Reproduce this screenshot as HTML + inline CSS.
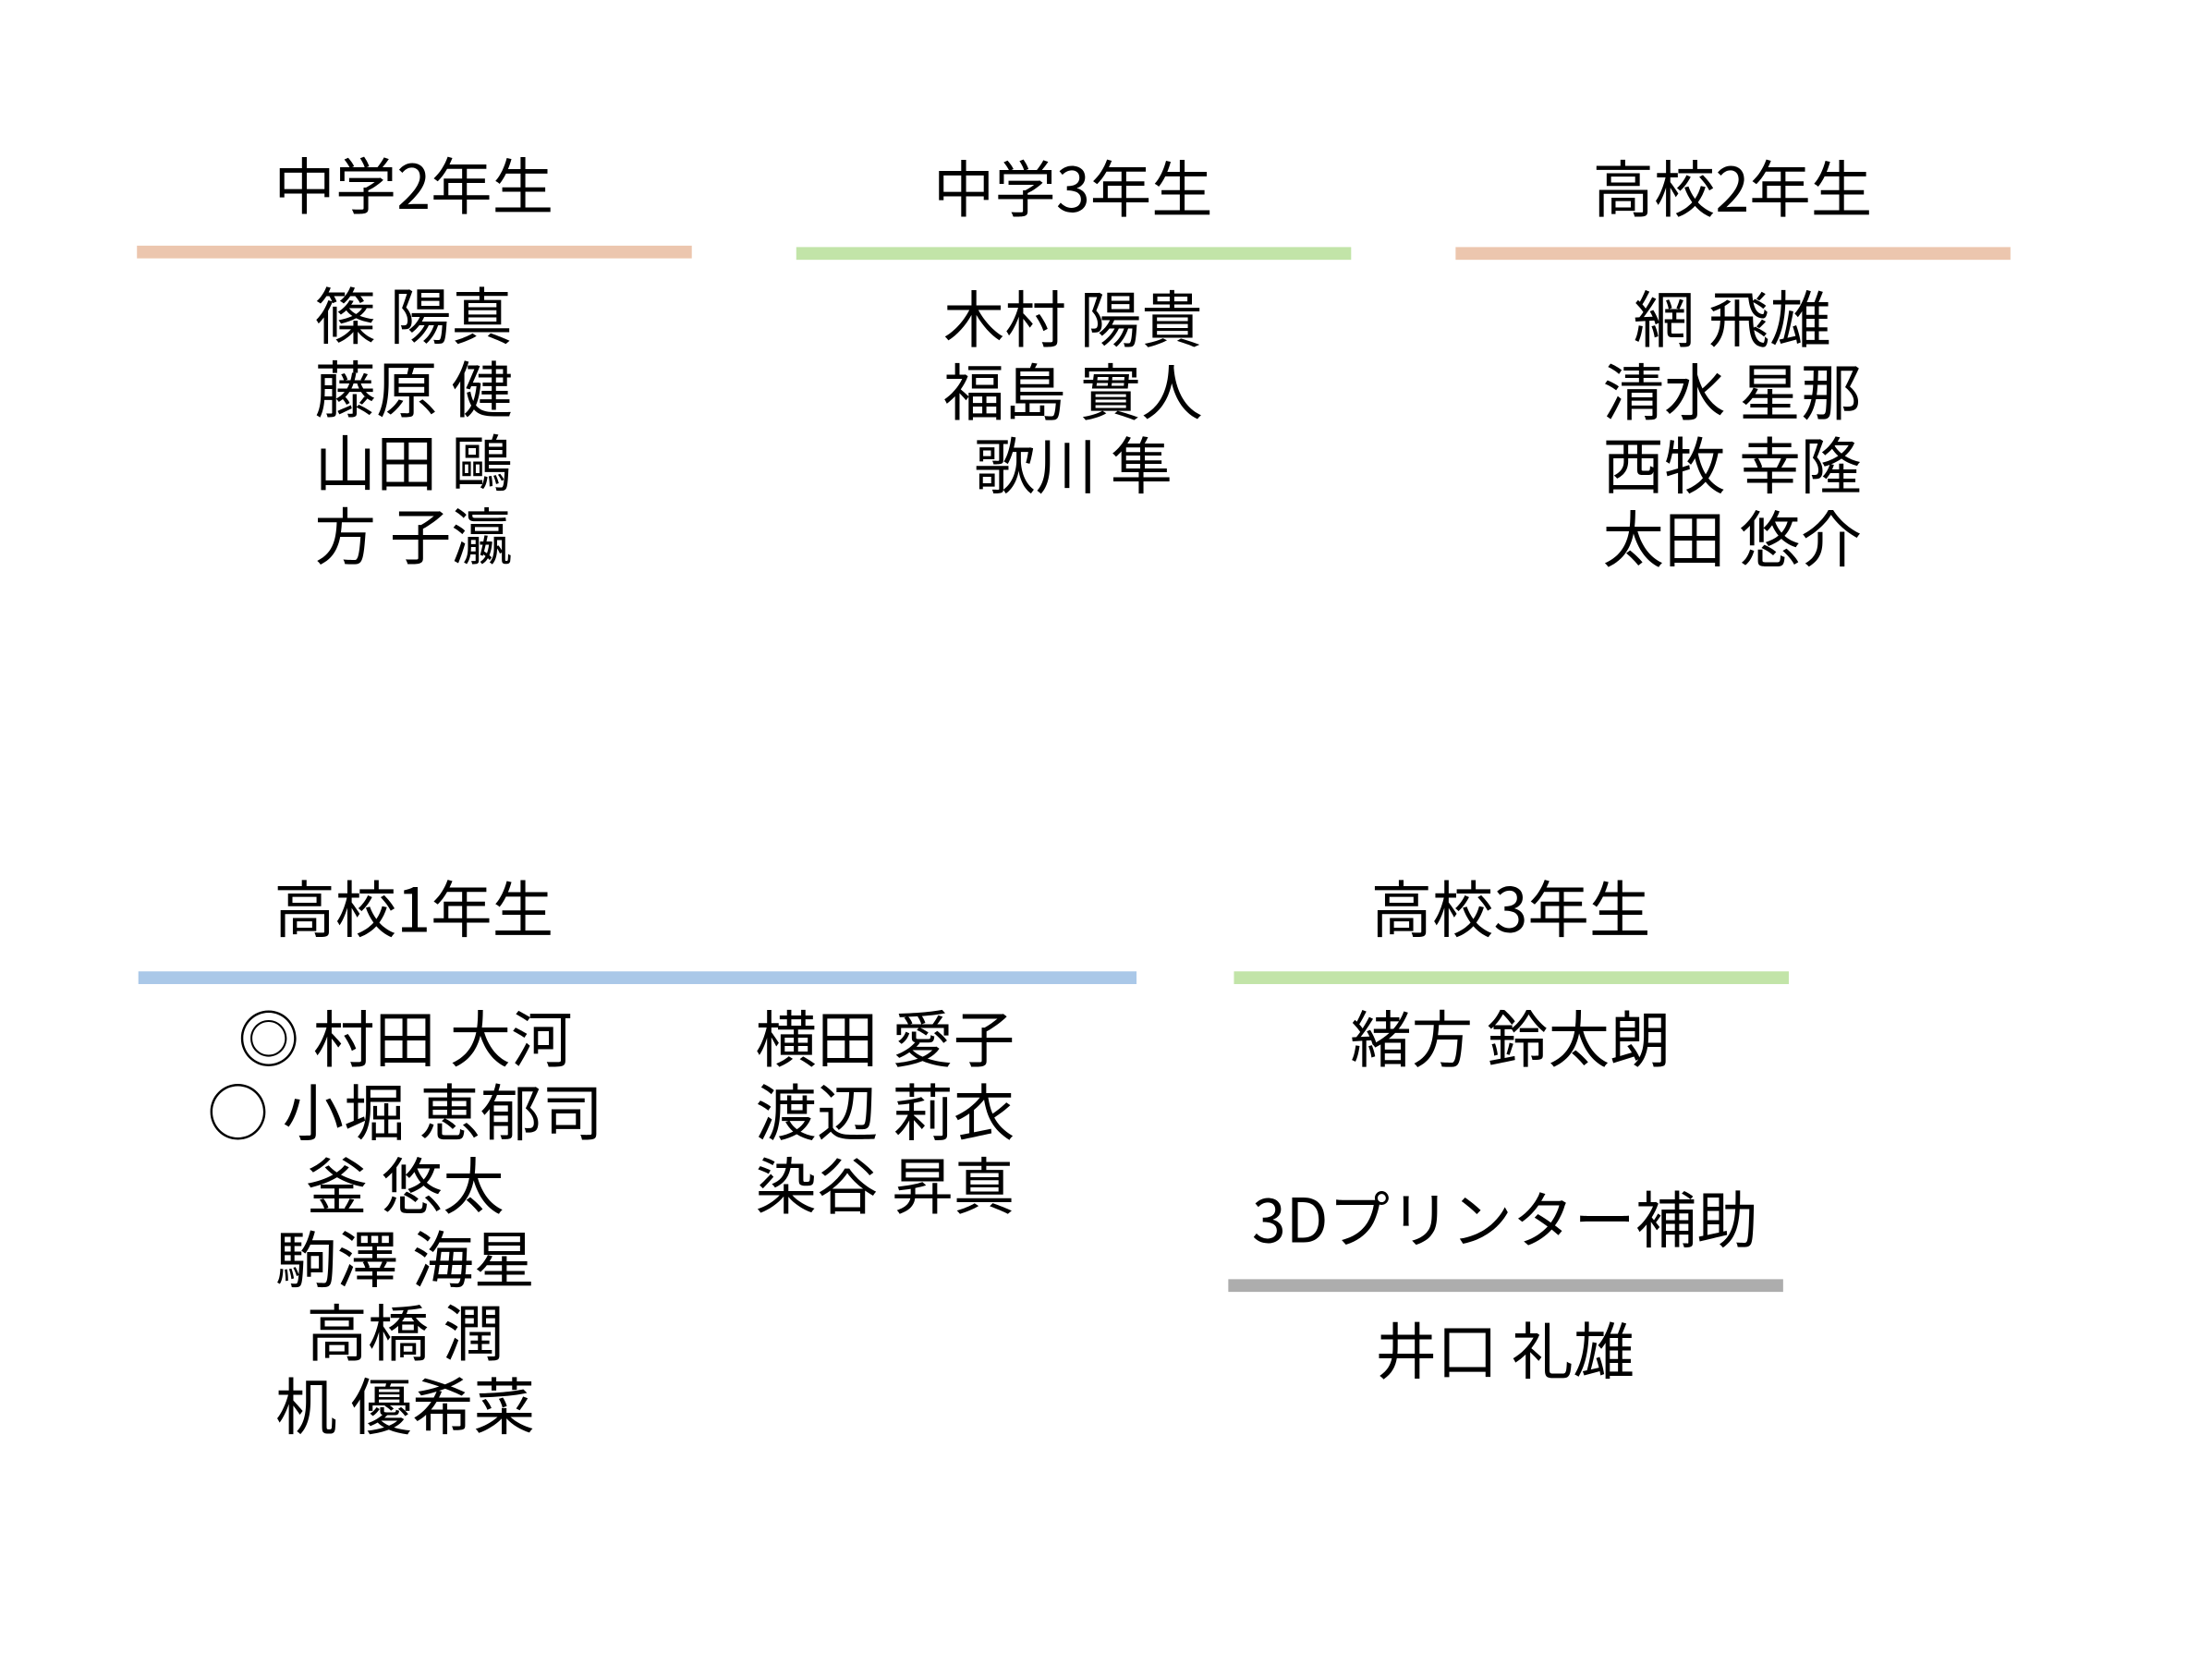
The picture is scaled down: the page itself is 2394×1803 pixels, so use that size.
<!DOCTYPE html>
<html><head><meta charset="utf-8"><style>
html,body{margin:0;padding:0;background:#fff;width:2394px;height:1798px;overflow:hidden}
#c{position:absolute;left:0;top:0;width:1570px;height:1180px;transform:scale(1.528);transform-origin:0 0;font-family:"Noto Sans CJK JP","Liberation Sans",sans-serif;color:#000}
.t{position:absolute;white-space:pre;font-size:43.5px;line-height:52px;text-align:center;transform:translateX(-50%)}
.l{position:absolute;white-space:pre;font-size:43.5px;line-height:52px}
.h{font-size:43.5px}
.b{position:absolute;height:9px}
</style></head><body><div id="c">
<div class="t h" style="left:293px;top:104px">中学2年生</div>
<div class="t h" style="left:760px;top:106px">中学3年生</div>
<div class="t h" style="left:1227px;top:106px">高校2年生</div>
<div class="b" style="left:97px;top:174px;width:393px;background:#ecc6ae"></div>
<div class="b" style="left:564px;top:175px;width:393px;background:#c2e4a8"></div>
<div class="b" style="left:1031px;top:175px;width:393px;background:#ecc6ae"></div>
<div class="t" style="left:293px;top:196px">篠 陽真<br>藤原 健<br>山田 鷗<br>方 子瀛</div>
<div class="t" style="left:760px;top:198px">木村 陽貴<br>福島 實人<br>歌川 隼</div>
<div class="t" style="left:1227px;top:198px">網 飛雄<br>清水 星那<br>西牧 幸隆<br>太田 悠介</div>

<div class="t h" style="left:293px;top:616px">高校1年生</div>
<div class="b" style="left:98px;top:688px;width:707px;background:#aac8e8"></div>
<div class="t" style="left:287px;top:708px">◎ 村田 大河<br>○ 小堀 恵郁司<br>釜 悠太<br>駒澤 海星<br>高橋 潤<br>机 優希菜</div>
<div class="l" style="left:535px;top:708px">横田 愛子<br>渡辺 莉衣<br>染谷 昇真</div>

<div class="t h" style="left:1070px;top:616px">高校3年生</div>
<div class="b" style="left:874px;top:688px;width:393px;background:#c2e4a8"></div>
<div class="t" style="left:1070px;top:708px">緒方 鈴太朗</div>

<div class="t h" style="left:1066px;top:836px">3Dプリンター補助</div>
<div class="b" style="left:870px;top:906px;width:393px;background:#adadad"></div>
<div class="t" style="left:1066px;top:929px">井口 礼雄</div>
</div></body></html>
